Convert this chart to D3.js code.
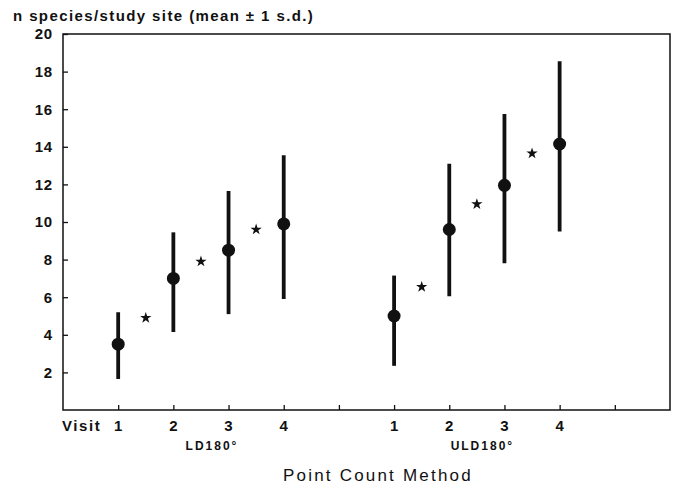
<!DOCTYPE html>
<html>
<head>
<meta charset="utf-8">
<script src="https://cdn.jsdelivr.net/npm/d3@7"></script>
<style>
  body { margin: 0; background: #fff; }
  text { font-family: "Liberation Sans", Arial, sans-serif; fill: #111; }
</style>
</head>
<body>
<svg id="chart" width="678" height="486"></svg>
<script>
// data
const visits = ["1", "2", "3", "4"];
const methods = ["LD180°", "ULD180°"];
const ldMean = [3.5, 7.0, 8.5, 9.9];
const ldLow = [1.65, 4.15, 5.1, 5.9];
const ldHigh = [5.2, 9.45, 11.65, 13.55];
const uldMean = [5.0, 9.6, 11.95, 14.15];
const uldLow = [2.35, 6.05, 7.8, 9.5];
const uldHigh = [7.15, 13.1, 15.75, 18.55];
// asterisks between consecutive visits
const ldStar = [4.9, 7.9, 9.6];
const uldStar = [6.55, 10.95, 13.65];
const yTicks = [2, 4, 6, 8, 10, 12, 14, 16, 18, 20];

// slot positions along x: LD visits at 1..4, ULD visits at 6..9
const ldPos = [1, 2, 3, 4];
const uldPos = [6, 7, 8, 9];
const methodPos = [2.7, 7.6];

const svg = d3.select("#chart");
const plotLeft = 63, plotRight = 670, plotTop = 34, plotBottom = 410;

const x = d3.scaleLinear().domain([0, 11]).range([plotLeft, plotRight]);
const y = d3.scaleLinear().domain([0, 20]).range([plotBottom, plotTop]);

// build point table
const points = [];
ldMean.forEach((m, i) => points.push({ pos: ldPos[i], mean: m, lo: ldLow[i], hi: ldHigh[i] }));
uldMean.forEach((m, i) => points.push({ pos: uldPos[i], mean: m, lo: uldLow[i], hi: uldHigh[i] }));
const stars = [];
ldStar.forEach((v, i) => stars.push({ pos: ldPos[i] + 0.5, v: v }));
uldStar.forEach((v, i) => stars.push({ pos: uldPos[i] + 0.5, v: v }));

// frame
svg.append("rect")
    .attr("x", plotLeft).attr("y", plotTop)
    .attr("width", plotRight - plotLeft).attr("height", plotBottom - plotTop)
    .attr("fill", "none").attr("stroke", "#111").attr("stroke-width", 1.5);

// y axis, ticks pointing inward
const yAxis = svg.append("g")
    .attr("transform", `translate(${plotLeft},0)`)
    .call(d3.axisLeft(y).tickValues(yTicks).tickSizeInner(-5).tickSizeOuter(0).tickPadding(10));
yAxis.select(".domain").remove();
yAxis.selectAll("line").attr("stroke", "#111").attr("stroke-width", 1.3);
yAxis.selectAll("text")
    .style("font-family", "Liberation Sans, Arial, sans-serif")
    .style("font-size", "15px").style("font-weight", "bold")
    .style("letter-spacing", "0.8px").attr("fill", "#111");

// x axis, ticks pointing inward, labels added separately
const xAxis = svg.append("g")
    .attr("transform", `translate(0,${plotBottom})`)
    .call(d3.axisBottom(x).tickValues(d3.range(1, 11)).tickSizeInner(-5).tickSizeOuter(0).tickFormat(""));
xAxis.select(".domain").remove();
xAxis.selectAll("line").attr("stroke", "#111").attr("stroke-width", 1.3);

// visit labels
const visitLabels = ldPos.map((p, i) => ({ pos: p, t: visits[i] }))
    .concat(uldPos.map((p, i) => ({ pos: p, t: visits[i] })));
svg.selectAll(".vlab")
    .data(visitLabels)
    .enter().append("text")
    .attr("class", "vlab")
    .attr("x", d => x(d.pos))
    .attr("y", 431)
    .attr("text-anchor", "middle")
    .style("font-size", "15px").style("font-weight", "bold")
    .text(d => d.t);

svg.append("text")
    .attr("x", plotLeft - 1).attr("y", 431)
    .style("font-size", "15px").style("font-weight", "bold")
    .style("letter-spacing", "1.6px")
    .text("Visit");

// method labels
svg.selectAll(".mlab")
    .data(methods)
    .enter().append("text")
    .attr("class", "mlab")
    .attr("x", (d, i) => x(methodPos[i]))
    .attr("y", 450)
    .attr("text-anchor", "middle")
    .style("font-size", "12px").style("font-weight", "bold")
    .style("letter-spacing", "2px")
    .text(d => d);

// x title
svg.append("text")
    .attr("x", 283).attr("y", 481)
    .style("font-size", "17px")
    .style("letter-spacing", "2.2px")
    .text("Point Count Method");

// y title
svg.append("text")
    .attr("x", 13).attr("y", 21)
    .style("font-size", "15px").style("font-weight", "bold")
    .style("letter-spacing", "1.4px")
    .text("n species/study site (mean ± 1 s.d.)");

// error bars
svg.selectAll(".err")
    .data(points)
    .enter().append("line")
    .attr("class", "err")
    .attr("x1", d => x(d.pos)).attr("x2", d => x(d.pos))
    .attr("y1", d => y(d.lo)).attr("y2", d => y(d.hi))
    .attr("stroke", "#111").attr("stroke-width", 3.8);

// means
svg.selectAll(".pt")
    .data(points)
    .enter().append("circle")
    .attr("class", "pt")
    .attr("cx", d => x(d.pos)).attr("cy", d => y(d.mean))
    .attr("r", 6.5)
    .attr("fill", "#111");

// asterisks
svg.selectAll(".star")
    .data(stars)
    .enter().append("path")
    .attr("class", "star")
    .attr("transform", d => `translate(${x(d.pos)},${y(d.v)})`)
    .attr("d", d3.symbol().type(d3.symbolStar).size(40))
    .attr("fill", "#111");
</script>
</body>
</html>
